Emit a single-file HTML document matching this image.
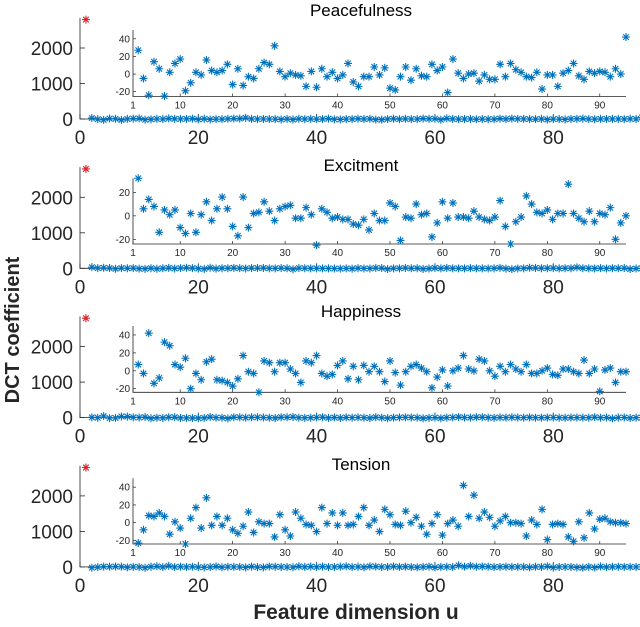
<!DOCTYPE html>
<html><head><meta charset="utf-8"><style>
html,body{margin:0;padding:0;background:#fff;}
svg{display:block;font-family:"Liberation Sans",Arial,sans-serif;}
</style></head><body>
<svg id="chart" width="640" height="627" viewBox="0 0 640 627" xmlns="http://www.w3.org/2000/svg">
<text x="0" y="0" transform="translate(19,330) rotate(-90)" text-anchor="middle" font-size="20" font-weight="bold" fill="#262626">DCT coefficient</text>
<text x="356" y="619" text-anchor="middle" font-size="21" font-weight="bold" fill="#262626">Feature dimension u</text>
</svg>
<script>
const panelTitles = ["Peacefulness","Excitment","Happiness","Tension"];
const dcValues = [2800, 2800, 2800, 2800];
const mainXTicks = [0,20,40,60,80];
const mainYTicks = [0,1000,2000];
const insetXTicks = [1,10,20,30,40,50,60,70,80,90];
const peaceValues = [27,-5,-24,14,6,-25,2,12,17,-19,-10,2,-1,16,4,2,4,11,-12,6,-13,-3,-5,6,13,11,32,3,-3,1,-1,-2,-14,3,-15,6,-3,2,-5,-1,12,-9,-14,-3,-3,8,-1,7,-16,-18,-3,8,-7,6,-2,-3,11,4,8,-21,17,1,-5,0,1,-8,-1,-6,-6,11,-3,12,5,2,-3,-4,2,-17,-1,-1,-14,1,4,12,-2,-6,3,1,3,2,-3,6,0,42];
const exciteValues = [32,6,14,8,-14,5,1,5,-10,-15,2,-14,1,12,-4,6,16,6,-9,-17,16,-10,2,3,12,4,-4,6,8,9,-2,-2,7,1,-25,6,3,-2,-1,-3,-3,-7,-8,-3,-12,2,-4,-4,11,8,-21,-1,-2,10,1,2,-18,-6,12,-2,11,-1,-1,-2,4,-1,-3,-4,-1,13,-9,-24,-5,-1,17,10,3,2,5,-3,2,2,27,2,-2,-5,4,-5,2,1,7,-20,-6,0];
const happyValues = [7,-3,42,-14,-8,32,28,7,4,14,-20,-3,-10,10,13,-10,-11,-13,-17,-9,17,-1,-3,-24,11,9,-1,9,9,2,-3,-13,11,9,17,-3,-6,-4,6,11,-9,5,-10,6,-1,5,-1,-12,11,-2,-16,-1,5,7,3,-1,-19,-7,1,-17,0,3,17,2,0,13,11,0,-6,5,-1,7,2,-1,7,-3,-3,0,3,-4,-5,2,2,-1,-3,12,-3,2,-23,1,3,-13,-1,-1];
const tensionValues = [-23,-8,8,7,11,7,-13,1,-6,-24,5,17,-6,28,-3,7,-3,5,-8,-12,-4,12,-11,1,-1,-1,-16,9,-8,-15,12,5,-2,-3,-10,17,-1,11,-3,11,-3,-2,7,17,-3,3,-10,15,9,-2,-3,13,0,6,-4,-13,-1,9,-14,-1,3,-4,42,7,31,5,12,6,-4,2,7,0,0,-1,-15,3,-2,15,-19,-2,-1,-2,-16,-21,1,-17,11,-7,4,5,1,0,0,-1];
const insetYTicks = [[-20,0,20,40],[-20,0,20],[-20,0,20,40],[-20,0,20,40]];
const insetYLims = [[-25.5,50],[-24,32],[-24,50],[-24,50]];
const seriesList = [peaceValues, exciteValues, happyValues, tensionValues];

const NS = "http://www.w3.org/2000/svg";
const svg = document.getElementById('chart');
const BLUE = "#0072BD", RED = "#E0202A", AX = "#262626";
function mk(tag, attrs, parent){const e=document.createElementNS(NS,tag);for(const k in attrs)e.setAttribute(k,attrs[k]);(parent||svg).appendChild(e);return e;}
function star(g,cx,cy,r,color){
  const d=`M${cx-r},${cy}H${cx+r}M${cx},${cy-r}V${cy+r}M${cx-r*0.7},${cy-r*0.7}L${cx+r*0.7},${cy+r*0.7}M${cx-r*0.7},${cy+r*0.7}L${cx+r*0.7},${cy-r*0.7}`;
  return mk('path',{d:d,stroke:color,'stroke-width':1.1,fill:'none'},g);
}
const titleY=[16,171,317,470];
const mX0=80, mX1=642, mXmax=95;
const mx = u => mX0 + (u/mXmax)*(mX1-mX0);
const insetTops=[30,178.3,326,478.3], insetBots=[96.5,244,392.3,544];
const iX0=133, iX1=626;
const ix = i => iX0 + (i-1)/(95-1)*(iX1-iX0);

for(let p=0;p<4;p++){
  const y0 = 119 + 149.3*p;
  const my = v => y0 - v*0.0355;
  const g = mk('g',{});
  
  
  const t = mk('text',{x:361,y:titleY[p],'text-anchor':'middle','font-size':17,fill:'#000'},g);
  t.textContent = panelTitles[p];
  
  
  const ax = mk('path',{d:`M${mX0},${my(2850)}V${y0}H${mX1}`,stroke:AX,'stroke-width':0.8,fill:'none'},g);
  
  
  mainYTicks.forEach(v=>{
    mk('line',{x1:mX0,x2:mX0+5,y1:my(v),y2:my(v),stroke:AX,'stroke-width':0.8},g);
    const l=mk('text',{x:73,y:my(v)+7,'text-anchor':'end','font-size':19,fill:AX},g);
    l.textContent=v;
    
    
  });
  mainXTicks.forEach(v=>{
    mk('line',{x1:mx(v),x2:mx(v),y1:y0,y2:y0-5,stroke:AX,'stroke-width':0.8},g);
    const l=mk('text',{x:mx(v),y:y0+25,'text-anchor':'middle','font-size':19,fill:AX},g);
    l.textContent=v;
    
    
  });
  const vals = seriesList[p];
  const rs = star(g, mx(1), my(dcValues[p]), 4, RED);
  
  
  vals.forEach((v,i)=>{
    const s=star(g, mx(i+2), my(v), 4, BLUE);
    
    
  });
  const [lo,hi]=insetYLims[p];
  const top=insetTops[p], bot=insetBots[p];
  const iy = v => bot - (v-lo)/(hi-lo)*(bot-top);
  const ig = mk('g',{},g);
  
  
  mk('rect',{x:iX0,y:top,width:iX1-iX0,height:bot-top,fill:'#fff'},ig);
  mk('path',{d:`M${iX0},${top}V${bot}H${iX1}`,stroke:AX,'stroke-width':0.8,fill:'none'},ig);
  insetYTicks[p].forEach(v=>{
    mk('line',{x1:iX0,x2:iX0+3,y1:iy(v),y2:iy(v),stroke:AX,'stroke-width':0.7},ig);
    const l=mk('text',{x:iX0-3,y:iy(v)+3.5,'text-anchor':'end','font-size':10,fill:AX},ig);
    l.textContent=v;
    
    
  });
  insetXTicks.forEach(v=>{
    mk('line',{x1:ix(v),x2:ix(v),y1:bot,y2:bot-3,stroke:AX,'stroke-width':0.7},ig);
    const l=mk('text',{x:ix(v),y:bot+12,'text-anchor':'middle','font-size':10,fill:AX},ig);
    l.textContent=v;
    
    
  });
  vals.forEach((v,i)=>{
    const s=star(ig, ix(i+2), iy(v), 4, BLUE);
    
    
  });
}
</script>
</body></html>
